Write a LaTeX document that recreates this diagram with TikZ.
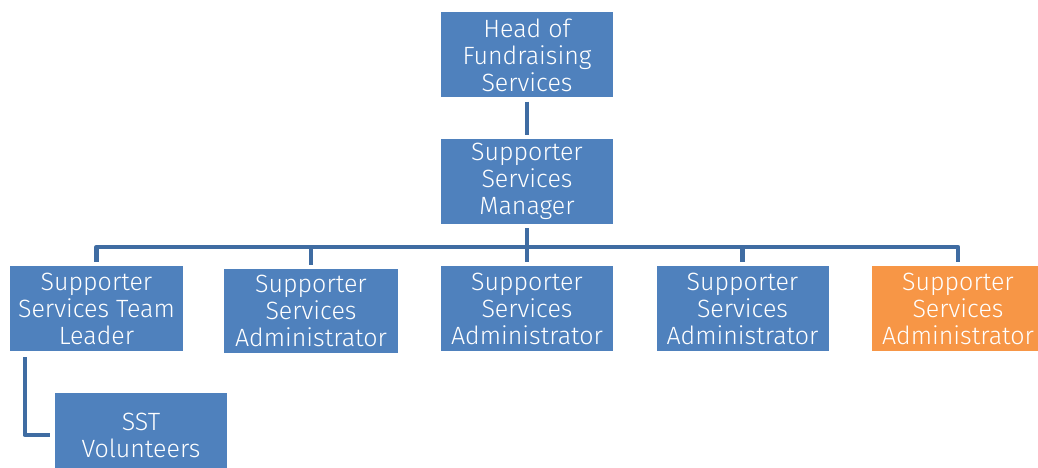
\documentclass[tikz,border=0pt]{standalone}
\usepackage{fontspec}
\setmainfont{Fira Sans}[UprightFont={* Light}]
\usepackage{tikz, xcolor}
\usetikzlibrary{calc}
\definecolor{boxblue}{HTML}{4F81BD}
\definecolor{boxorange}{HTML}{F79646}
\definecolor{linkblue}{HTML}{3F6CA2}
\tikzset{post/.style = {rectangle, fill=boxblue, text=white, minimum width=172pt, minimum height=85pt, inner sep=0pt, align=center, font=\fontsize{25}{27}\selectfont}}
\tikzset{link/.style = {draw=linkblue, line width=4.5pt, line join=round}}

\begin{document}
\begin{tikzpicture}[x=1pt, y=-1pt]
    \useasboundingbox (0,0) rectangle (1038,468);
    \clip (0,0) rectangle (1038,468);
    \node[post] (head) at (527,55) {Head of\\Fundraising\\Services};
    \node[post] (mgr) at (527,181.5) {Supporter\\Services\\Manager};
    \node[post, minimum width=173pt] (tl) at (96.5,308.5) {Supporter\\Services Team\\Leader};
    \node[post, minimum width=174pt, minimum height=84pt] (adminA) at (311,311) {Supporter\\Services\\Administrator};
    \node[post] (adminB) at (527,308.5) {Supporter\\Services\\Administrator};
    \node[post] (adminC) at (742.5,308.5) {Supporter\\Services\\Administrator};
    \node[post, fill=boxorange] (adminD) at (958,308.5) {Supporter\\Services\\Administrator};
    \node[post] (sst) at (141,435) {SST\\Volunteers};
    \coordinate (bus) at (527,247);
    \coordinate (tlfoot) at ($(tl.south west)+(15,0)$);
    \draw[link, shorten <=4pt, shorten >=4pt] (head) -- (mgr);
    \draw[link, shorten <=4pt, shorten >=4pt] (mgr) -- (adminB);
    \draw[link, shorten <=4pt, shorten >=4pt] (tl) |- (bus) -| (adminD);
    \draw[link, shorten >=4pt] (bus -| adminA) -- (adminA);
    \draw[link, shorten >=4pt] (bus -| adminC) -- (adminC);
    \draw[link, shorten <=6pt, shorten >=5pt] (tlfoot) |- (sst);
\end{tikzpicture}
\end{document}
